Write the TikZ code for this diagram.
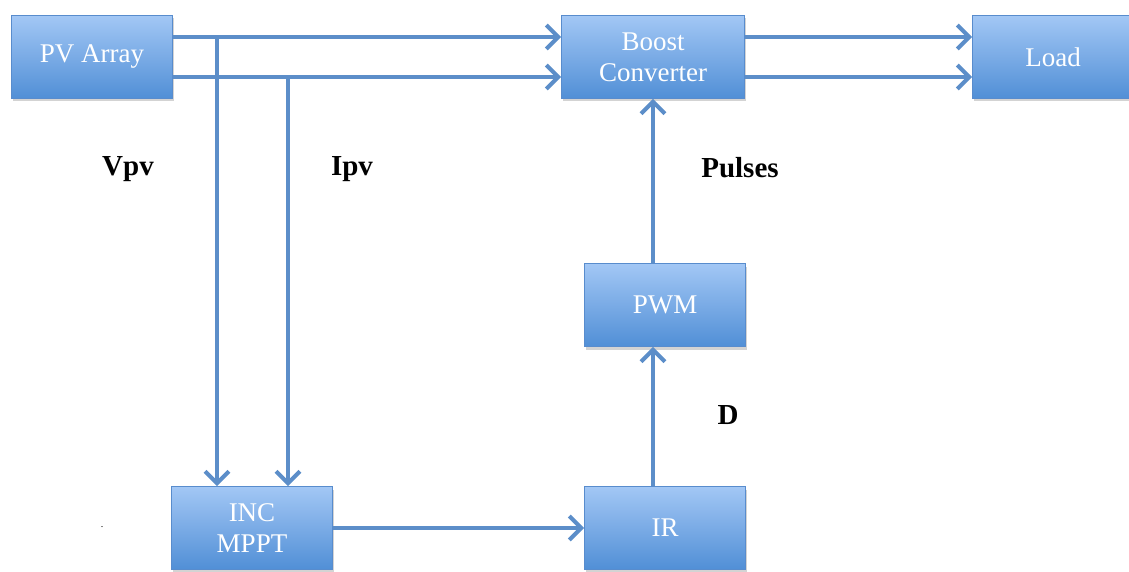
\documentclass[tikz,border=0pt]{standalone}
\usepackage{fontspec}
\setmainfont{Liberation Serif}
\usetikzlibrary{arrows.meta,shadows}
\definecolor{linec}{RGB}{92,142,201}
\definecolor{boxtop}{RGB}{163,199,245}
\definecolor{boxbot}{RGB}{80,143,214}
\definecolor{boxedge}{RGB}{88,140,205}
\tikzset{
  blk/.style={rectangle, draw=boxedge, line width=0.8pt, top color=boxtop, bottom color=boxbot,
    minimum width=161pt, minimum height=83pt, inner sep=0pt, text=white,
    font=\fontsize{27}{31}\selectfont, align=center,
    drop shadow={opacity=0.35, shadow xshift=1.5pt, shadow yshift=-3pt}},
  conn/.style={draw=linec, line width=4.5pt},
  arr/.style={conn, -{Straight Barb[length=12pt,width=24pt,line width=4pt]}},
  lab/.style={font=\bfseries\fontsize{29}{32}\selectfont, text=black}
}
\begin{document}
\begin{tikzpicture}[x=1pt,y=-1pt]
\useasboundingbox (0,0) rectangle (1129,572);
\node[blk] (PV) at (92,57) {PV Array};
\node[blk, minimum width=183pt] (Boost) at (653,57) {Boost\\Converter};
\node[blk] (Load) at (1053,57) {Load};
\node[blk] (PWM) at (665,305) {PWM};
\node[blk] (IR) at (665,528) {IR};
\node[blk] (MPPT) at (252,528) {INC\\MPPT};

\coordinate (jv) at (217,37);
\coordinate (ji) at (288,77);

\draw[arr] (PV.east |- jv) -- (Boost.west |- jv);
\draw[arr] (PV.east |- ji) -- (Boost.west |- ji);
\draw[arr] (jv) -- (MPPT.north -| jv);
\draw[arr] (ji) -- (MPPT.north -| ji);
\draw[arr] (Boost.east |- jv) -- (Load.west |- jv);
\draw[arr] (Boost.east |- ji) -- (Load.west |- ji);
\draw[arr] (MPPT) -- (IR);
\coordinate (cx) at (653,0);
\draw[arr] (IR.north -| cx) -- (PWM.south -| cx);
\draw[arr] (PWM.north -| cx) -- (Boost.south);

\node[lab] (vpv) at (128,169) {Vpv};
\node[lab] (ipv) at (352,169) {Ipv};
\node[lab] (pul) at (740,168) {Pulses};
\node[lab] (dl) at (728,415) {D};
\node[font=\fontsize{10}{12}\selectfont] (dot) at (102,527) {.};
\end{tikzpicture}
\end{document}
